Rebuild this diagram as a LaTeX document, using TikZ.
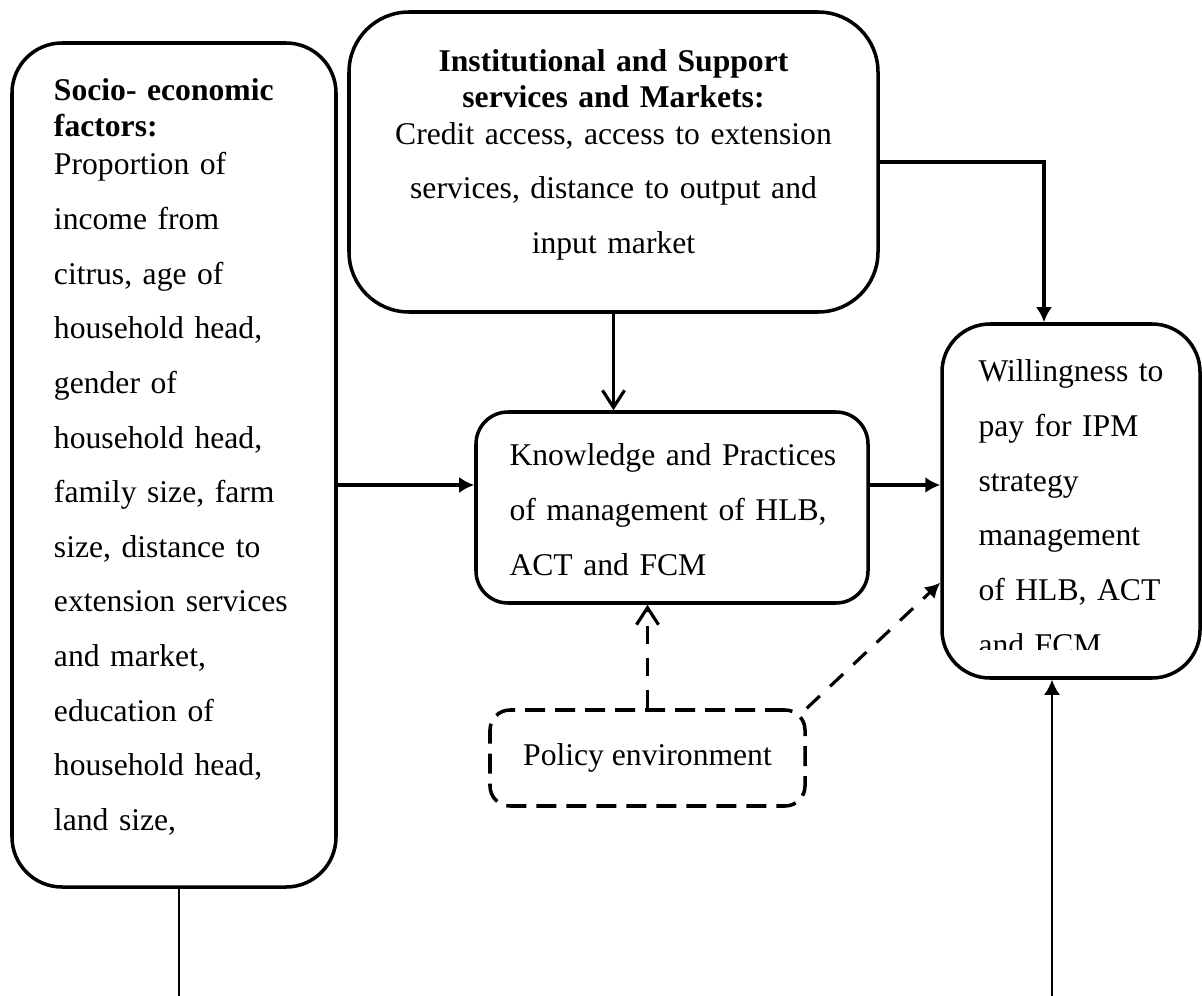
\documentclass[tikz,border=0pt]{standalone}
\usepackage{fontspec}
\setmainfont{Liberation Serif}
\usepackage{tikz}
\usetikzlibrary{arrows.meta, calc}
\newcommand{\dline}{\\[10.6pt]}

\begin{document}
\begin{tikzpicture}[
    box/.style={draw, line width=2pt, inner sep=0pt, font=\fontsize{18}{20.5}\selectfont},
    dashbox/.style={box, dash pattern=on 0.4cm off 0.2cm},
    arrow/.style={-{Latex[length=0.3cm, width=0.32cm]}, line width=1.8pt},
    openarrow/.style={-{Straight Barb[length=0.34cm, width=0.44cm]}, line width=1.8pt},
    dasharrow/.style={dash pattern=on 0.36cm off 0.28cm},
    thinline/.style={line width=1.2pt}
]
\useasboundingbox (0,0) rectangle (24.04,-19.92);

% Boxes
\node[box, rounded corners=1cm, minimum width=6.48cm, minimum height=16.88cm, text width=4.8cm, align=left, text depth=15cm] (socio) at (3.48,-9.30)
    {\textbf{Socio- economic}\\\textbf{factors:}\\[1pt]Proportion of\dline income from\dline citrus, age of\dline household head,\dline gender of\dline household head,\dline family size, farm\dline size, distance to\dline extension services\dline and market,\dline education of\dline household head,\dline land size,};
\node[box, rounded corners=1.2cm, minimum width=10.58cm, minimum height=6cm, text width=10cm, align=center, text depth=4.04cm] (inst) at (12.27,-3.24)
    {\textbf{Institutional and Support}\\\textbf{services and Markets:}\\Credit access, access to extension\dline services, distance to output and\dline input market};
\node[box, rounded corners=0.64cm, minimum width=7.84cm, minimum height=3.82cm, text width=6.5cm, align=left, text depth=2.1cm] (know) at (13.44,-10.15)
    {\makebox[\linewidth][s]{Knowledge and Practices}\dline \makebox[\linewidth][s]{of management of HLB,}\dline ACT and FCM};
\node[box, rounded corners=0.96cm, minimum width=5.16cm, minimum height=7.08cm] (will) at (21.42,-10.02) {};
\begin{scope}
    \clip (will.north west) rectangle ([yshift=0.6cm]will.south east);
    \node[box, draw=none, text width=3.7cm, align=left, text depth=5.2cm] (willtext) at (will)
        {Willingness to\dline pay for IPM\dline strategy\dline management\dline of HLB, ACT\dline and FCM};
\end{scope}
\node[dashbox, rounded corners=0.4cm, minimum width=6.3cm, minimum height=1.92cm] (policy) at (12.95,-15.16) {Policy environment};

% Helper points
\coordinate (kin) at ([yshift=0.45cm]know.west);
\coordinate (wtop) at ([xshift=-0.54cm]will.north);
\coordinate (bottom) at (0,-19.92);
\coordinate (sfoot) at ([xshift=0.1cm]socio.south |- bottom);
\coordinate (wfoot) at ([xshift=-0.38cm]will.south |- bottom);

% Connections
\draw[arrow] (socio.east |- kin) -- (kin);
\draw[arrow] (know.east |- kin) -- (will.west |- kin);
\draw[openarrow] (inst.south) -- (inst.south |- know.north);
\draw[arrow] (inst.east) -| (wtop);
\draw[openarrow, dasharrow] (policy.north) -- (policy.north |- know.south);
\draw[arrow, dasharrow] (policy.north east) -- (will.212);
\draw[thinline] (sfoot |- socio.south) -- (sfoot);
\draw[arrow, thinline] (wfoot) -- (wfoot |- will.south);

\end{tikzpicture}
\end{document}
